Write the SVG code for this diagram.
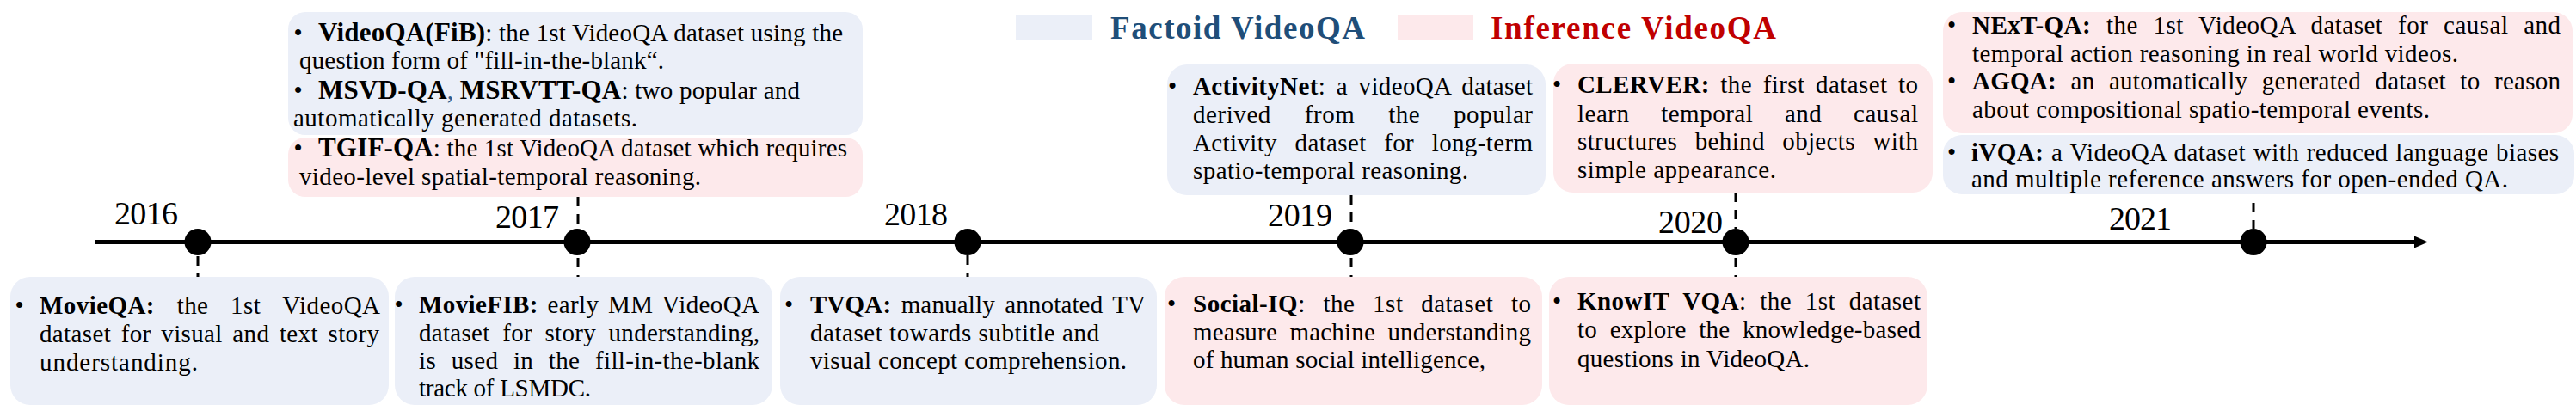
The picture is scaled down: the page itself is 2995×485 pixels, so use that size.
<svg xmlns="http://www.w3.org/2000/svg" width="2995" height="485" viewBox="0 0 2995 485">
<style>
text{font-family:"Liberation Serif","Times New Roman",serif;font-size:29px;fill:#000}
.bd{font-weight:bold}
.b30{font-weight:bold;font-size:31px}
.yr{font-size:38px}
.lg{font-size:37px;font-weight:bold}
.fb{fill:#EBEFF8}
.fp{fill:#FDE9EB}
.dash{stroke:#000;stroke-width:3;stroke-dasharray:11 9;fill:none}
.axis{stroke:#000;stroke-width:5;fill:none}
</style>

<g id="legend">
<rect class="fb" x="1181" y="18" width="89" height="29"/>
<text class="lg" x="1291" y="45" textLength="296" lengthAdjust="spacing" style="fill:#1F4E79">Factoid VideoQA</text>
<rect class="fp" x="1625" y="17" width="88" height="29"/>
<text class="lg" x="1733" y="45" textLength="332" lengthAdjust="spacing" style="fill:#C00000">Inference VideoQA</text>
</g>

<g id="timeline">
<line class="axis" x1="110" y1="281.5" x2="2810" y2="281.5"/>
<polygon points="2807,274.5 2823,281.5 2807,288.5" fill="#000"/>
</g>

<g id="connectors">
<line class="dash" x1="230" y1="298" x2="230" y2="331"/>
<line class="dash" x1="672" y1="229" x2="672" y2="266"/>
<line class="dash" x1="672" y1="300" x2="672" y2="330"/>
<line class="dash" x1="1125" y1="297" x2="1125" y2="332"/>
<line class="dash" x1="1571" y1="227" x2="1571" y2="266"/>
<line class="dash" x1="1571" y1="300" x2="1571" y2="330"/>
<line class="dash" x1="2018" y1="224" x2="2018" y2="266"/>
<line class="dash" x1="2018" y1="300" x2="2018" y2="328"/>
<line class="dash" x1="2620" y1="236" x2="2620" y2="266"/>
</g>

<g id="year-2016"><circle cx="230" cy="281.5" r="15.5"/><text class="yr" x="133" y="261" textLength="74" lengthAdjust="spacing">2016</text></g>
<g id="year-2017"><circle cx="671" cy="281.5" r="15.5"/><text class="yr" x="576" y="265" textLength="74" lengthAdjust="spacing">2017</text></g>
<g id="year-2018"><circle cx="1125" cy="281.5" r="15.5"/><text class="yr" x="1028" y="262" textLength="74" lengthAdjust="spacing">2018</text></g>
<g id="year-2019"><circle cx="1570" cy="281.5" r="15.5"/><text class="yr" x="1474" y="263" textLength="75" lengthAdjust="spacing">2019</text></g>
<g id="year-2020"><circle cx="2018" cy="281.5" r="15.5"/><text class="yr" x="1928" y="271" textLength="75" lengthAdjust="spacing">2020</text></g>
<g id="year-2021"><circle cx="2620" cy="281.5" r="15.5"/><text class="yr" x="2452" y="267" textLength="73" lengthAdjust="spacing">2021</text></g>

<g id="node-videoqa-fib-msvd">
<rect class="fb" x="335" y="14" width="668" height="143" rx="20"/>
<text x="346.5" y="48" text-anchor="middle">•</text>
<text x="370" y="48" textLength="610" lengthAdjust="spacing"><tspan class="b30">VideoQA(FiB)</tspan>: the 1st VideoQA dataset using the</text>
<text x="348" y="80" textLength="424" lengthAdjust="spacing">question form of "fill-in-the-blank“.</text>
<text x="346.5" y="115" text-anchor="middle">•</text>
<text x="370" y="115" textLength="560" lengthAdjust="spacing"><tspan class="b30">MSVD-QA</tspan><tspan style="fill:#2E5C8A">,</tspan> <tspan class="b30">MSRVTT-QA</tspan>: two popular and</text>
<text x="341" y="147" textLength="400" lengthAdjust="spacing">automatically generated datasets.</text>
</g>

<g id="node-tgif-qa">
<rect class="fp" x="335" y="160" width="668" height="69" rx="20"/>
<text x="346.5" y="182" text-anchor="middle">•</text>
<text x="370" y="182" textLength="615" lengthAdjust="spacing"><tspan class="b30">TGIF-QA</tspan>: the 1st VideoQA dataset which requires</text>
<text x="348" y="215" textLength="467" lengthAdjust="spacing">video-level spatial-temporal reasoning.</text>
</g>

<g id="node-movieqa">
<rect class="fb" x="12" y="322" width="440" height="149" rx="23"/>
<text x="22.5" y="365" text-anchor="middle">•</text>
<text x="46" y="365" textLength="396" lengthAdjust="spacing" word-spacing="18"><tspan class="bd">MovieQA:</tspan> the 1st VideoQA</text>
<text x="46" y="398" textLength="395" lengthAdjust="spacing" word-spacing="4">dataset for visual and text story</text>
<text x="46" y="431" textLength="184" lengthAdjust="spacing">understanding.</text>
</g>

<g id="node-moviefib">
<rect class="fb" x="459" y="322" width="439" height="149" rx="23"/>
<text x="463.5" y="364" text-anchor="middle">•</text>
<text x="487" y="364" textLength="396" lengthAdjust="spacing" word-spacing="3"><tspan class="bd">MovieFIB:</tspan> early MM VideoQA</text>
<text x="487" y="397" textLength="396" lengthAdjust="spacing" word-spacing="7">dataset for story understanding,</text>
<text x="487" y="429" textLength="396" lengthAdjust="spacing" word-spacing="10">is used in the fill-in-the-blank</text>
<text x="487" y="461" textLength="200" lengthAdjust="spacing">track of LSMDC.</text>
</g>

<g id="node-tvqa">
<rect class="fb" x="907" y="322" width="438" height="149" rx="23"/>
<text x="917" y="364" text-anchor="middle">•</text>
<text x="942" y="364" textLength="390" lengthAdjust="spacing" word-spacing="4"><tspan class="bd">TVQA:</tspan> manually annotated TV</text>
<text x="942" y="397" textLength="336" lengthAdjust="spacing">dataset towards subtitle and</text>
<text x="942" y="429" textLength="368" lengthAdjust="spacing">visual concept comprehension.</text>
</g>

<g id="node-activitynet">
<rect class="fb" x="1357" y="75" width="440" height="152" rx="23"/>
<text x="1363" y="110" text-anchor="middle">•</text>
<text x="1387" y="110" textLength="395" lengthAdjust="spacing" word-spacing="5"><tspan class="bd">ActivityNet</tspan>: a videoQA dataset</text>
<text x="1387" y="143" textLength="395" lengthAdjust="spacing" word-spacing="31">derived from the popular</text>
<text x="1387" y="176" textLength="395" lengthAdjust="spacing" word-spacing="13">Activity dataset for long-term</text>
<text x="1387" y="208" textLength="320" lengthAdjust="spacing">spatio-temporal reasoning.</text>
</g>

<g id="node-social-iq">
<rect class="fp" x="1354" y="322" width="439" height="149" rx="23"/>
<text x="1362" y="363" text-anchor="middle">•</text>
<text x="1387" y="363" textLength="393" lengthAdjust="spacing" word-spacing="13"><tspan class="bd">Social-IQ</tspan>: the 1st dataset to</text>
<text x="1387" y="396" textLength="393" lengthAdjust="spacing" word-spacing="7">measure machine understanding</text>
<text x="1387" y="428" textLength="340" lengthAdjust="spacing">of human social intelligence,</text>
</g>

<g id="node-clerver">
<rect class="fp" x="1806" y="74" width="441" height="150" rx="23"/>
<text x="1810" y="108" text-anchor="middle">•</text>
<text x="1834" y="108" textLength="396" lengthAdjust="spacing" word-spacing="5"><tspan class="bd">CLERVER:</tspan> the first dataset to</text>
<text x="1834" y="142" textLength="396" lengthAdjust="spacing" word-spacing="29">learn temporal and causal</text>
<text x="1834" y="174" textLength="396" lengthAdjust="spacing" word-spacing="13">structures behind objects with</text>
<text x="1834" y="207" textLength="231" lengthAdjust="spacing">simple appearance.</text>
</g>

<g id="node-knowit-vqa">
<rect class="fp" x="1801" y="322" width="440" height="149" rx="23"/>
<text x="1810" y="360" text-anchor="middle">•</text>
<text x="1834" y="360" textLength="399" lengthAdjust="spacing" word-spacing="8"><tspan class="bd">KnowIT VQA</tspan>: the 1st dataset</text>
<text x="1834" y="393" textLength="399" lengthAdjust="spacing" word-spacing="7">to explore the knowledge-based</text>
<text x="1834" y="427" textLength="270" lengthAdjust="spacing">questions in VideoQA.</text>
</g>

<g id="node-next-qa-agqa">
<rect class="fp" x="2259" y="14" width="732" height="141" rx="22"/>
<text x="2269" y="39" text-anchor="middle">•</text>
<text x="2293" y="39" textLength="684" lengthAdjust="spacing" word-spacing="10"><tspan class="bd">NExT-QA:</tspan> the 1st VideoQA dataset for causal and</text>
<text x="2293" y="72" textLength="565" lengthAdjust="spacing">temporal action reasoning in real world videos.</text>
<text x="2269" y="104" text-anchor="middle">•</text>
<text x="2293" y="104" textLength="684" lengthAdjust="spacing" word-spacing="9"><tspan class="bd">AGQA:</tspan> an automatically generated dataset to reason</text>
<text x="2293" y="137" textLength="532" lengthAdjust="spacing">about compositional spatio-temporal events.</text>
</g>

<g id="node-ivqa">
<rect class="fb" x="2259" y="157" width="734" height="69" rx="22"/>
<text x="2269" y="187" text-anchor="middle">•</text>
<text x="2292" y="187" textLength="683" lengthAdjust="spacing" word-spacing="1"><tspan class="bd">iVQA:</tspan> a VideoQA dataset with reduced language biases</text>
<text x="2292" y="218" textLength="624" lengthAdjust="spacing">and multiple reference answers for open-ended QA.</text>
</g>
</svg>
